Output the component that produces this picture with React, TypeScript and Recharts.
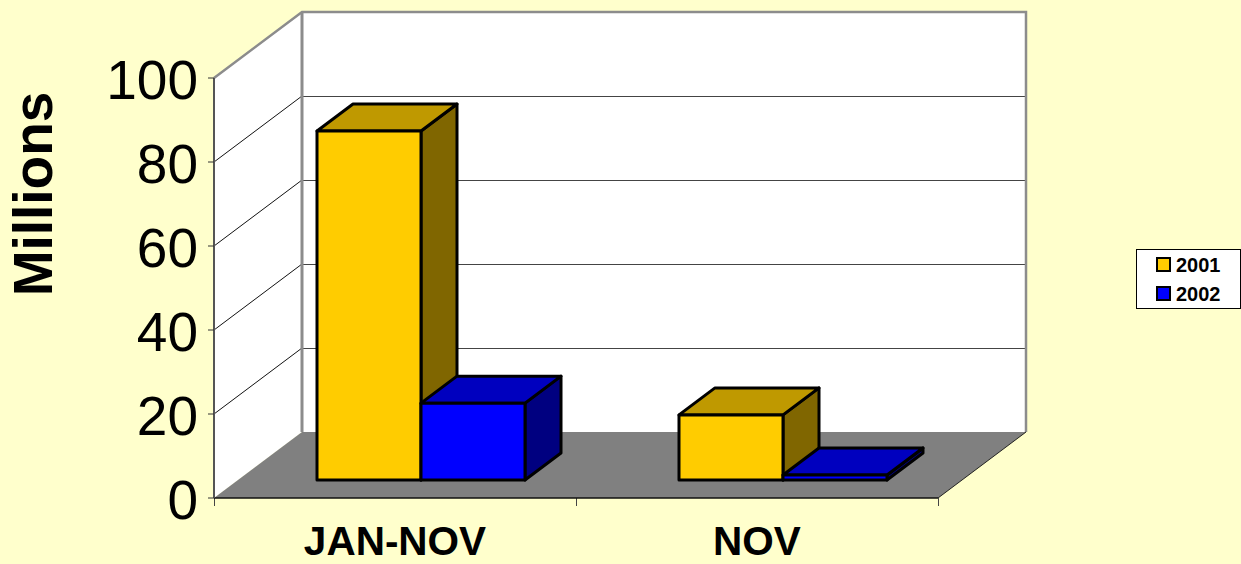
import React from 'react'
import { BarChart, Bar, XAxis, YAxis } from 'recharts'

const categories = ['JAN-NOV', 'NOV']
const values2001 = [83.1, 15.5]
const values2002 = [18.3, 1.2]
const yTicks = [0, 20, 40, 60, 80, 100]
const seriesNames = ['2001', '2002']
const seriesColors = ['#FFCC00', '#0000FF']

const data = categories.map((name, i) => ({
  name,
  y2001: values2001[i],
  y2002: values2002[i]
}))

const WIDTH = 1241
const HEIGHT = 564
const FONT = '"Liberation Sans", Arial, sans-serif'
const margin = { top: 78, right: 303, bottom: 0, left: 0 }
const AXIS_W = 214
const AXIS_H = 66

// plot rectangle = front edge of the 3D box
const left = margin.left + AXIS_W
const right = WIDTH - margin.right
const top = margin.top
const bottom = HEIGHT - AXIS_H
const DX = 88 // box depth
const DY = 66
const BAR_DX = 36 // bar depth
const BAR_DY = 27
const BAR_OFF_X = 26 // bars sit a bit behind the front edge
const BAR_OFF_Y = 18

const yOf = (v: number) => bottom - ((bottom - top) * v) / 100

// walls and floor, drawn behind the bars
const Walls = () => (
  <g>
    <polygon
      points={`${left},${top} ${left + DX},${top - DY} ${left + DX},${bottom - DY} ${left},${bottom}`}
      fill="#fff"
    />
    <rect x={left + DX} y={top - DY} width={right - left} height={bottom - top} fill="#fff" />
    {yTicks.slice(1, -1).map((t) => (
      <g key={t}>
        <line x1={left + DX} x2={right + DX} y1={yOf(t) - DY + 0.5} y2={yOf(t) - DY + 0.5} stroke="#444" strokeWidth={1} />
        <line x1={left} x2={left + DX} y1={yOf(t)} y2={yOf(t) - DY} stroke="#111" strokeWidth={1} />
      </g>
    ))}
    <polyline
      points={`${left},${top} ${left + DX},${top - DY} ${right + DX},${top - DY} ${right + DX},${bottom - DY}`}
      fill="none"
      stroke="#8c8c8c"
      strokeWidth={2.5}
    />
    <line x1={left + DX} x2={left + DX} y1={top - DY} y2={bottom - DY} stroke="#8c8c8c" strokeWidth={3} />
    <polygon
      points={`${left},${bottom} ${left + DX},${bottom - DY} ${right + DX},${bottom - DY} ${right},${bottom}`}
      fill="#808080"
    />
    <line x1={right} x2={right + DX} y1={bottom} y2={bottom - DY} stroke="#222" strokeWidth={1} />
    {[left, (left + right) / 2, right].map((x) => (
      <line key={x} x1={x + 0.5} x2={x + 0.5} y1={bottom} y2={bottom + 8} stroke="#444" strokeWidth={1} />
    ))}
  </g>
)

// 3D box for one bar
const Box3D = ({ x, y, width, height, fill, topFill, sideFill }: any) => {
  const x0 = x + BAR_OFF_X
  const y0 = y - BAR_OFF_Y
  const x1 = x0 + width
  const y1 = y0 + height
  return (
    <g stroke="#000" strokeWidth={3} strokeLinejoin="round">
      <polygon
        points={`${x1},${y0} ${x1 + BAR_DX},${y0 - BAR_DY} ${x1 + BAR_DX},${y1 - BAR_DY} ${x1},${y1}`}
        fill={sideFill}
      />
      <polygon
        points={`${x0},${y0} ${x0 + BAR_DX},${y0 - BAR_DY} ${x1 + BAR_DX},${y0 - BAR_DY} ${x1},${y0}`}
        fill={topFill}
      />
      <rect x={x0} y={y0} width={width} height={height} fill={fill} />
    </g>
  )
}

// rotated axis title, placed higher than the plot's middle as in the picture
const AxisTitle = () => (
  <text
    x={52}
    y={194}
    transform="rotate(-90 52 194)"
    textAnchor="middle"
    fontFamily={FONT}
    fontSize={55}
    fontWeight={700}
    fill="#000"
  >
    Millions
  </text>
)

const LegendBox = () => (
  <div
    style={{
      position: 'absolute',
      left: 1136,
      top: 249,
      width: 103,
      height: 58,
      boxSizing: 'content-box',
      background: '#fff',
      border: '1px solid #000',
      fontFamily: FONT,
      fontWeight: 700,
      fontSize: 20,
      color: '#000'
    }}
  >
    {seriesNames.map((s, i) => (
      <div key={s} style={{ position: 'absolute', left: 19, top: 4 + i * 29, height: 23, lineHeight: '23px', whiteSpace: 'nowrap' }}>
        <span
          style={{
            position: 'absolute',
            left: 0,
            top: 3,
            width: 11,
            height: 11,
            background: seriesColors[i],
            border: '2px solid #000'
          }}
        />
        <span style={{ position: 'absolute', left: 20, top: 0 }}>{s}</span>
      </div>
    ))}
  </div>
)

export default function App() {
  return (
    <div style={{ position: 'absolute', left: 0, top: 0, width: WIDTH, height: HEIGHT, background: '#FFFFCC', overflow: 'hidden' }}>
      <BarChart width={WIDTH} height={HEIGHT} data={data} margin={margin} barSize={104} barGap={0}>
        <Walls />
        <AxisTitle />
        <XAxis
          dataKey="name"
          height={AXIS_H}
          tickLine={false}
          axisLine={{ stroke: '#111', strokeWidth: 1.5 }}
          tick={{ fontFamily: FONT, fontSize: 40.5, fontWeight: 700, fill: '#000' }}
          tickMargin={22}
          interval={0}
        />
        <YAxis
          width={AXIS_W}
          domain={[0, 100]}
          ticks={yTicks}
          tickSize={6}
          tickMargin={10}
          tickLine={{ stroke: '#333', strokeWidth: 1 }}
          axisLine={{ stroke: '#555', strokeWidth: 2 }}
          tick={{ fontFamily: FONT, fontSize: 55, fill: '#000', dy: 1 }}
        />
        <Bar
          dataKey="y2001"
          fill={seriesColors[0]}
          isAnimationActive={false}
          shape={(p: any) => <Box3D {...p} topFill="#BF9900" sideFill="#806600" />}
        />
        <Bar
          dataKey="y2002"
          fill={seriesColors[1]}
          isAnimationActive={false}
          shape={(p: any) => <Box3D {...p} topFill="#0000BF" sideFill="#000080" />}
        />
      </BarChart>
      <LegendBox />
    </div>
  )
}
